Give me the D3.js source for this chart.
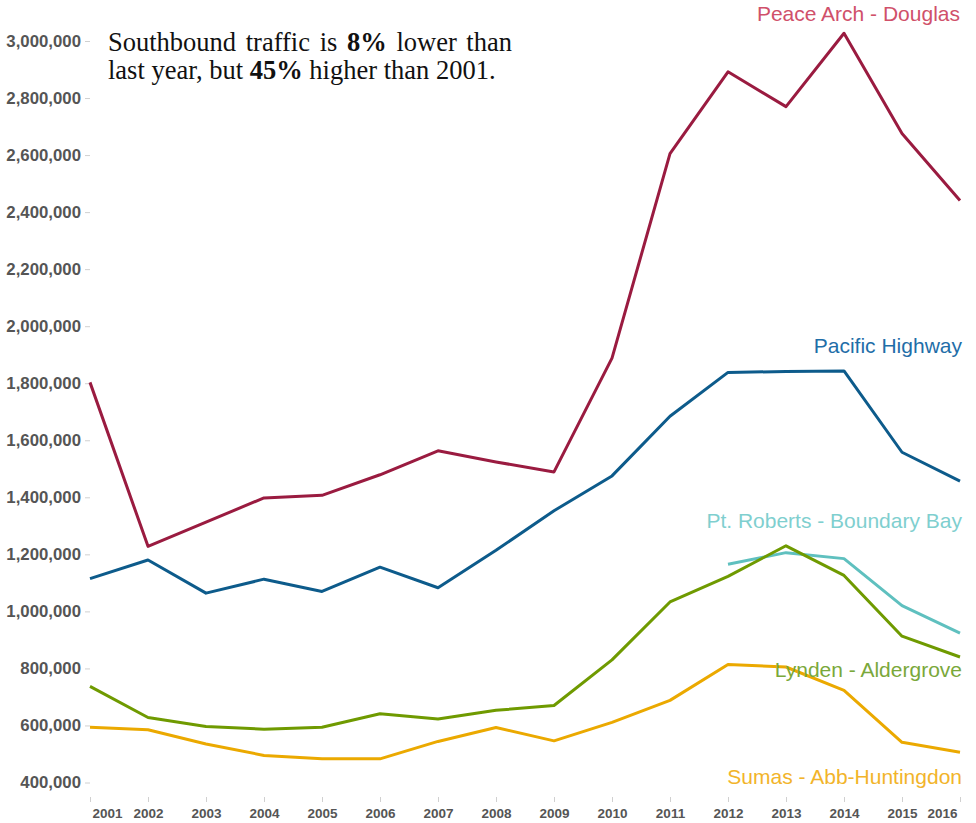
<!DOCTYPE html>
<html>
<head>
<meta charset="utf-8">
<script src="https://cdn.jsdelivr.net/npm/d3@7"></script>
<style>
  html, body { margin: 0; padding: 0; background: #fff; }
  svg { display: block; }
</style>
</head>
<body>
<svg id="chart" width="976" height="823"></svg>
<script>
const years = [2001, 2002, 2003, 2004, 2005, 2006, 2007, 2008, 2009, 2010, 2011, 2012, 2013, 2014, 2015, 2016];
const peaceArch = [1803000, 1228000, 1313000, 1398000, 1407000, 1479000, 1563000, 1524000, 1489000, 1888000, 2605000, 2892000, 2770000, 3027000, 2676000, 2441000];
const pacificHighway = [1115000, 1180000, 1064000, 1113000, 1070000, 1155000, 1083000, 1214000, 1353000, 1475000, 1684000, 1838000, 1841000, 1843000, 1558000, 1457000];
const ptRoberts = [null, null, null, null, null, null, null, null, null, null, null, 1165000, 1206000, 1185000, 1020000, 924000];
const lynden = [737000, 628000, 596000, 587000, 594000, 641000, 623000, 653000, 670000, 830000, 1033000, 1123000, 1230000, 1126000, 913000, 840000];
const sumas = [594000, 585000, 535000, 495000, 483000, 483000, 544000, 593000, 546000, 611000, 688000, 814000, 805000, 723000, 541000, 506000];
const yTicks = [400000, 600000, 800000, 1000000, 1200000, 1400000, 1600000, 1800000, 2000000, 2200000, 2400000, 2600000, 2800000, 3000000];
const seriesNames = ["Peace Arch - Douglas", "Pacific Highway", "Pt. Roberts - Boundary Bay", "Lynden - Aldergrove", "Sumas - Abb-Huntingdon"];
const seriesValues = [peaceArch, pacificHighway, ptRoberts, lynden, sumas];
const lineColors = ["#9a1b40", "#0d5b8b", "#5fc0bf", "#6f9a00", "#eba900"];
const labelColors = ["#d0506a", "#1f6ea8", "#7fcfcf", "#7aa83a", "#f2b42a"];
const labelY = [21, 352.5, 527.5, 676.5, 783.5];
const labelX = [960, 962, 962, 962, 962];

const svg = d3.select("#chart");
const x = d3.scaleLinear().domain([2001, 2016]).range([90, 960]);
const y = d3.scaleLinear().domain([400000, 3000000]).range([782.5, 41]);

// Y axis
const yAxis = svg.append("g").attr("transform", "translate(90,0)")
  .call(d3.axisLeft(y).tickValues(yTicks).tickSize(5).tickPadding(4).tickFormat(d3.format(",")));
yAxis.select(".domain").remove();
yAxis.selectAll(".tick line").attr("stroke", "#d0d0d0");
yAxis.selectAll(".tick text")
  .attr("fill", "#555")
  .style("font-family", "'Liberation Sans', Arial, sans-serif")
  .style("font-weight", "bold")
  .style("font-size", "16.8px");

// X axis
const xAxis = svg.append("g").attr("transform", "translate(0,797)")
  .call(d3.axisBottom(x).tickValues(years).tickSize(5).tickPadding(6.5).tickFormat(d3.format("d")));
xAxis.select(".domain").remove();
xAxis.selectAll(".tick line").attr("stroke", "#d0d0d0");
const xt = xAxis.selectAll(".tick text")
  .attr("fill", "#555")
  .style("font-family", "'Liberation Sans', Arial, sans-serif")
  .style("font-weight", "bold")
  .style("font-size", "13.5px");
xt.filter((d, i) => i === 0).attr("text-anchor", "start").attr("x", 2);
xt.filter((d, i) => i === years.length - 1).attr("text-anchor", "end").attr("x", -3);

// Lines
const line = d3.line()
  .defined(d => d.v != null)
  .x(d => x(d.year))
  .y(d => y(d.v));

seriesValues.forEach((vals, i) => {
  const data = years.map((yr, j) => ({ year: yr, v: vals[j] }));
  svg.append("path")
    .datum(data)
    .attr("fill", "none")
    .attr("stroke", lineColors[i])
    .attr("stroke-width", 3)
    .attr("stroke-linejoin", "round")
    .attr("d", line);
});

// Series labels
seriesNames.forEach((name, i) => {
  svg.append("text")
    .attr("x", labelX[i])
    .attr("y", labelY[i])
    .attr("text-anchor", "end")
    .attr("fill", labelColors[i])
    .style("font-family", "'Liberation Sans', Arial, sans-serif")
    .style("font-size", "21px")
    .text(name);
});

// Annotation
const annLines = [
  [["Southbound traffic is ", false], ["8%", true], [" lower than", false]],
  [["last year, but ", false], ["45%", true], [" higher than 2001.", false]]
];
const annBase = [51, 79];
const annWidth = [404, null];
annLines.forEach((parts, li) => {
  const t = svg.append("text")
    .attr("x", 108)
    .attr("y", annBase[li])
    .attr("fill", "#111")
    .style("font-family", "'Liberation Serif', 'Times New Roman', serif")
    .style("font-size", "26.5px")
    .style("white-space", "pre");
  parts.forEach(p => {
    t.append("tspan").attr("font-weight", p[1] ? "bold" : "normal").text(p[0]);
  });
  if (annWidth[li]) {
    const len = t.node().getComputedTextLength();
    const spaces = parts.map(p => p[0]).join("").split(" ").length - 1;
    const extra = (annWidth[li] - len) / spaces;
    if (extra > 0) t.style("word-spacing", extra + "px");
  }
});
</script>
</body>
</html>
